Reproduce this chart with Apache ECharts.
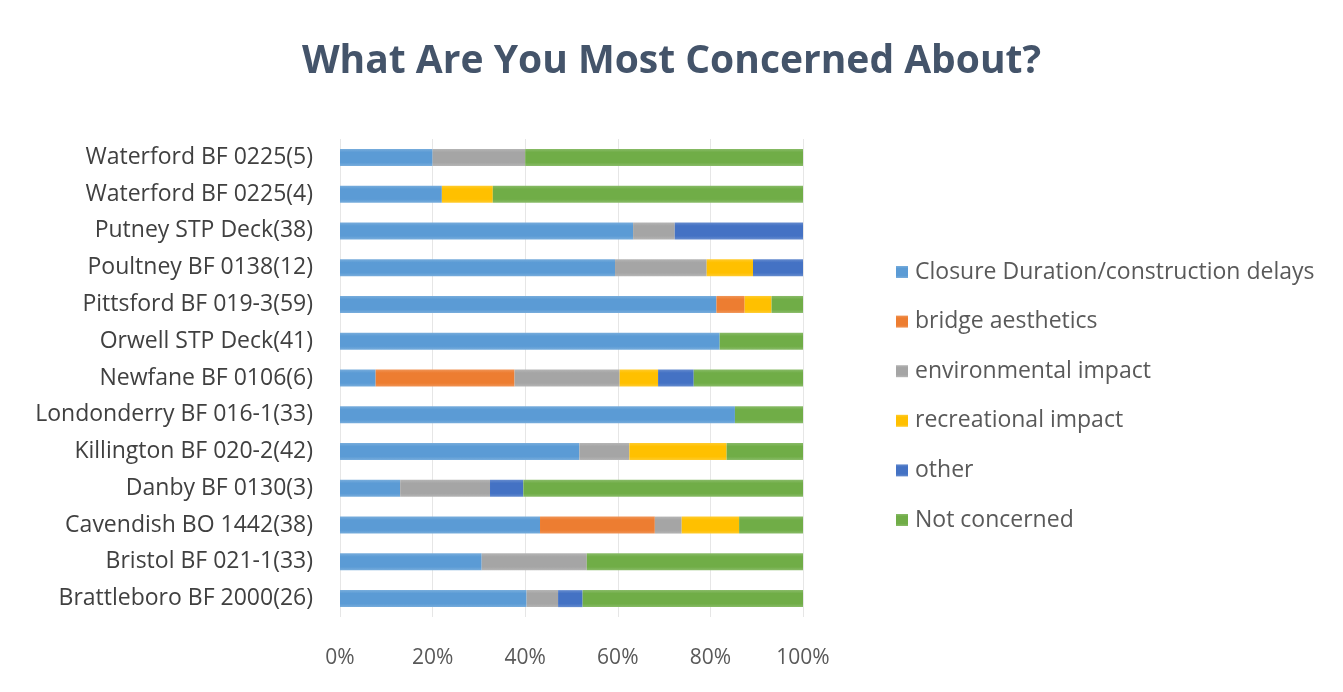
<!DOCTYPE html>
<html>
<head>
<meta charset="utf-8">
<script src="https://cdn.jsdelivr.net/npm/echarts@6/dist/echarts.min.js"></script>
<style>
html,body{margin:0;padding:0;background:#fff;}
#chart{width:1343px;height:692px;}
</style>
</head>
<body>
<div id="chart"></div>
<script>
// categories bottom -> top
const categories = [
  "Brattleboro BF 2000(26)",
  "Bristol BF 021-1(33)",
  "Cavendish BO 1442(38)",
  "Danby BF 0130(3)",
  "Killington BF 020-2(42)",
  "Londonderry BF 016-1(33)",
  "Newfane BF 0106(6)",
  "Orwell STP Deck(41)",
  "Pittsford BF 019-3(59)",
  "Poultney BF 0138(12)",
  "Putney STP Deck(38)",
  "Waterford BF 0225(4)",
  "Waterford BF 0225(5)"
];
const closureDuration   = [40.3, 30.6, 43.2, 13.0, 51.7, 85.3,  7.7, 82.0, 81.3, 59.4, 63.3, 22.0, 20.0];
const bridgeAesthetics  = [ 0,    0,   24.8,  0,    0,    0,   30.0,  0,    6.1,  0,    0,    0,    0  ];
const environmental     = [ 6.8, 22.7,  5.8, 19.4, 10.8,  0,   22.7,  0,    0,   19.8,  9.0,  0,   20.0];
const recreational      = [ 0,    0,   12.4,  0,   21.0,  0,    8.3,  0,    5.8, 10.0,  0,   11.0,  0  ];
const other             = [ 5.3,  0,    0,    7.2,  0,    0,    7.7,  0,    0,   10.8, 27.7,  0,    0  ];
const notConcerned      = [47.6, 46.7, 13.8, 60.4, 16.5, 14.7, 23.6, 18.0,  6.8,  0,    0,   67.0, 60.0];
const xTicks = [0, 20, 40, 60, 80, 100];

const seriesDefs = [
  ["Closure Duration/construction delays", closureDuration, "#5B9BD5"],
  ["bridge aesthetics", bridgeAesthetics, "#ED7D31"],
  ["environmental impact", environmental, "#A5A5A5"],
  ["recreational impact", recreational, "#FFC000"],
  ["other", other, "#4472C4"],
  ["Not concerned", notConcerned, "#70AD47"]
];

const chart = echarts.init(document.getElementById('chart'), null, {renderer:'canvas'});
const font = "'Open Sans', 'Noto Sans', sans-serif";
chart.setOption({
  backgroundColor: '#ffffff',
  animation: false,
  title: {
    text: 'What Are You Most Concerned About?',
    left: 'center',
    top: 37,
    textStyle: {fontFamily: font, fontSize: 39, fontWeight: 'bold', color: '#44546A'}
  },
  legend: {
    orient: 'vertical',
    left: 891,
    top: 251,
    itemGap: 17.6,
    itemWidth: 12,
    itemHeight: 12,
    icon: 'rect',
    textStyle: {fontFamily: font, fontSize: 23, lineHeight: 32, color: '#595959', padding: [0,0,0,2]},
    data: seriesDefs.map(d => d[0])
  },
  grid: {left: 340, right: 540, top: 139, bottom: 75, containLabel: false},
  xAxis: {
    type: 'value',
    min: 0, max: 100, interval: 20,
    axisLine: {show: false},
    axisTick: {show: false},
    splitLine: {show: true, lineStyle: {color: '#E6E6E6', width: 1}},
    axisLabel: {
      margin: 31,
      fontFamily: font, fontSize: 21, color: '#595959',
      formatter: v => xTicks.includes(v) ? v + '%' : ''
    }
  },
  yAxis: {
    type: 'category',
    data: categories,
    axisLine: {show: false},
    axisTick: {show: false},
    axisLabel: {margin: 27, fontFamily: font, fontSize: 23, color: '#404040'}
  },
  series: seriesDefs.map(d => ({
    name: d[0],
    type: 'bar',
    stack: 'total',
    barWidth: 17,
    data: d[1],
    itemStyle: {
      color: {
        type: 'linear', x: 0, y: 0, x2: 0, y2: 1,
        colorStops: [
          {offset: 0, color: echarts.color.lift(d[2], 0.18)},
          {offset: 0.2, color: d[2]},
          {offset: 0.8, color: d[2]},
          {offset: 1, color: echarts.color.lift(d[2], 0.18)}
        ]
      }
    }
  }))
});
</script>
</body>
</html>
